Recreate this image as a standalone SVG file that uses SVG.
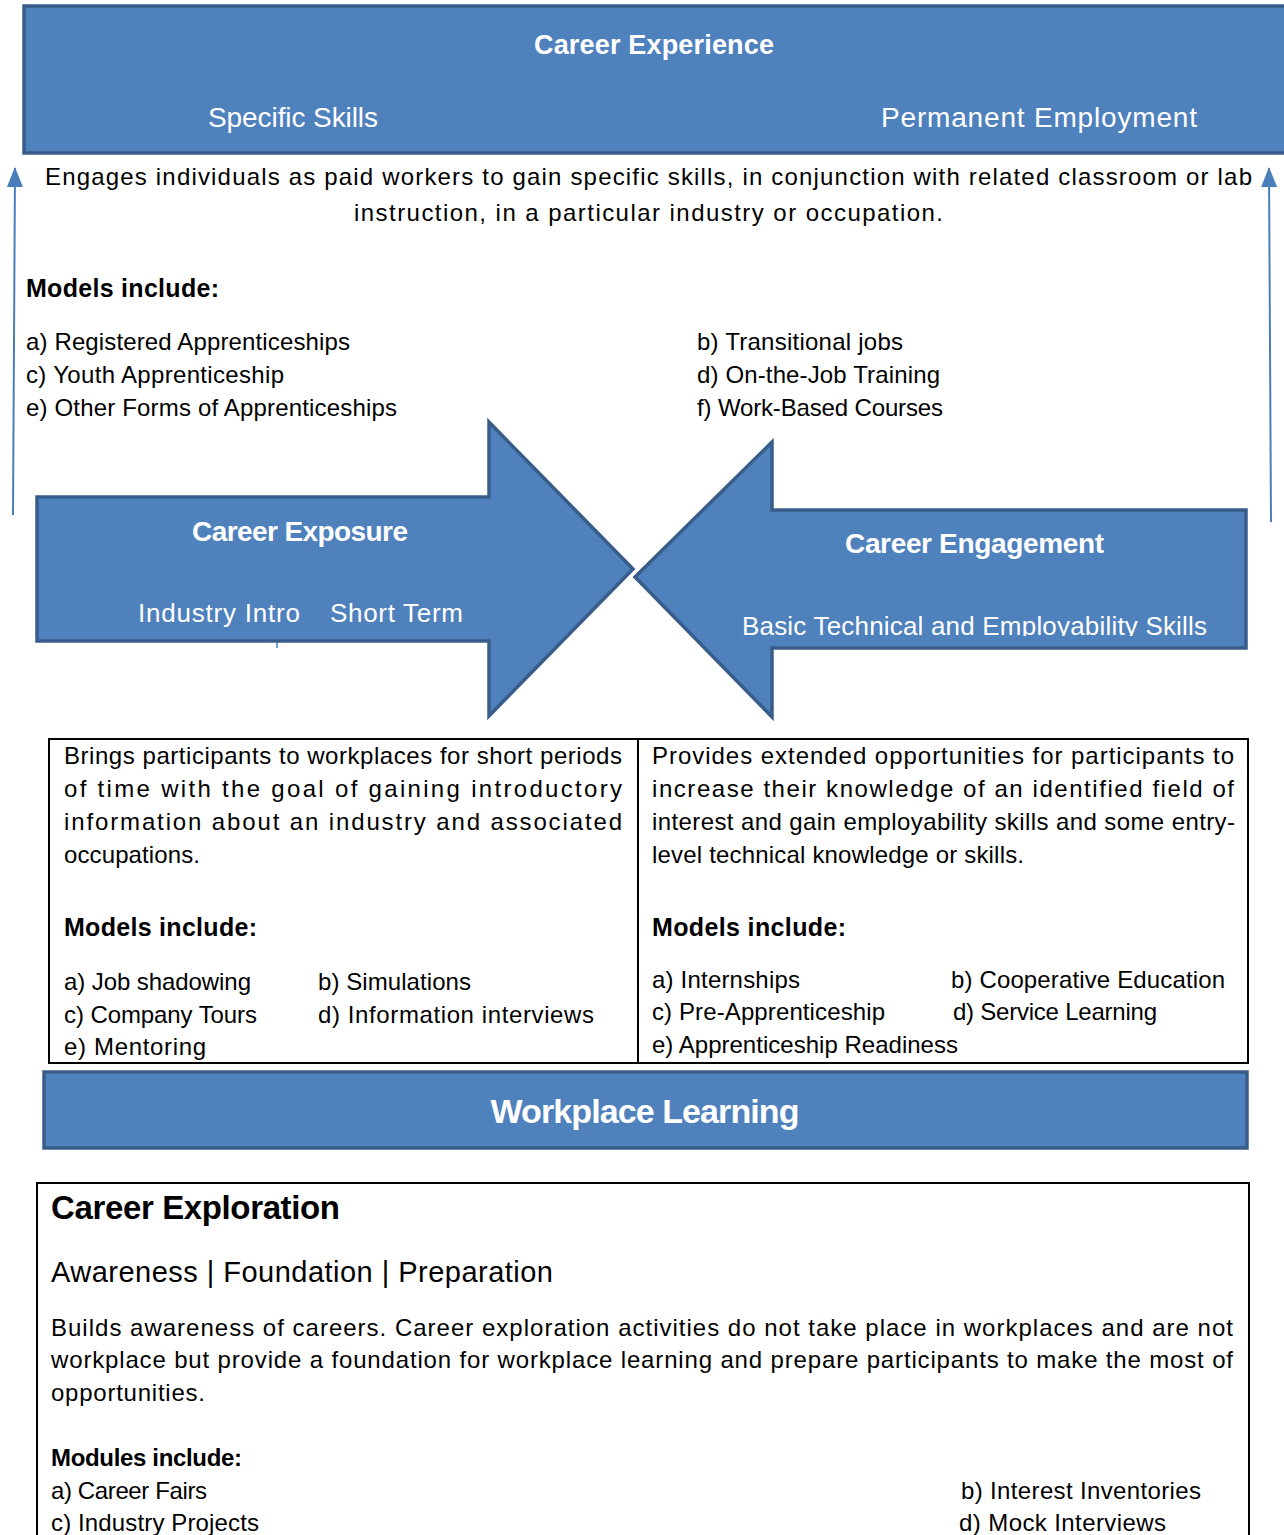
<svg xmlns="http://www.w3.org/2000/svg" width="1284" height="1535" viewBox="0 0 1284 1535">
<defs>
<style>
.blue{fill:#4F81BD;stroke:#385D8A;stroke-width:3.5;stroke-linejoin:miter}
.box{fill:none;stroke:#000;stroke-width:2}
text{font-family:"Liberation Sans",Arial,sans-serif}
.w{fill:#fff}
.k{fill:#000}
.b{font-weight:bold}
.body{font-size:24px}
.conn{stroke:#4A7EBB;stroke-width:2;fill:none}
</style>
<marker id="ah" viewBox="0 0 20 16" refX="19" refY="8" markerWidth="20" markerHeight="16" markerUnits="userSpaceOnUse" orient="auto">
<path d="M0,0 L20,8 L0,16 Z" fill="#4A7EBB"/>
</marker>
<clipPath id="clipEng"><rect x="640" y="500" width="620" height="136"/></clipPath>
</defs>
<rect width="1284" height="1535" fill="#fff"/>

<g id="career-experience">
<rect class="blue" x="24" y="6" width="1280" height="147"/>
<text class="w b" x="654" y="54" font-size="27" text-anchor="middle" textLength="240">Career Experience</text>
<text class="w" x="208" y="127" font-size="28" textLength="170">Specific Skills</text>
<text class="w" x="881" y="127" font-size="28" textLength="316">Permanent Employment</text>
</g>

<g id="experience-description">
<text class="k body" x="45" y="185" textLength="1207">Engages individuals as paid workers to gain specific skills, in conjunction with related classroom or lab</text>
<text class="k body" x="354" y="221" textLength="589">instruction, in a particular industry or occupation.</text>
<text class="k b" x="26" y="297" font-size="25" textLength="193">Models include:</text>
<text class="k body" x="26" y="350" textLength="324">a) Registered Apprenticeships</text>
<text class="k body" x="26" y="383" textLength="258">c) Youth Apprenticeship</text>
<text class="k body" x="26" y="416" textLength="371">e) Other Forms of Apprenticeships</text>
<text class="k body" x="697" y="350" textLength="206">b) Transitional jobs</text>
<text class="k body" x="697" y="383" textLength="243">d) On-the-Job Training</text>
<text class="k body" x="697" y="416" textLength="246">f) Work-Based Courses</text>
</g>

<g id="connectors">
<line class="conn" x1="13" y1="515" x2="15" y2="168" marker-end="url(#ah)"/>
<line class="conn" x1="1271" y1="522" x2="1269" y2="168" marker-end="url(#ah)"/>
<line x1="277" y1="628" x2="277" y2="648" stroke="#4A7EBB" stroke-width="1.5"/>
</g>

<g id="career-exposure">
<polygon class="blue" points="37,497 489,497 489,422 633,569 489,716 489,641 37,641"/>
<text class="w b" x="192" y="541" font-size="28" textLength="216">Career Exposure</text>
<text class="w" x="138" y="622" font-size="26" textLength="162">Industry Intro</text>
<text class="w" x="330" y="622" font-size="26" textLength="133">Short Term</text>
</g>

<g id="career-engagement">
<polygon class="blue" points="635,577 772,442 772,510 1246,510 1246,648 772,648 772,717"/>
<text class="w b" x="845" y="553" font-size="28" textLength="259">Career Engagement</text>
<g clip-path="url(#clipEng)">
<text class="w" x="742" y="635" font-size="26" textLength="465">Basic Technical and Employability Skills</text>
</g>
</g>

<g id="exposure-engagement-table">
<rect class="box" x="49" y="739" width="1199" height="324"/>
<line x1="638" y1="739" x2="638" y2="1063" stroke="#000" stroke-width="2"/>
</g>

<g id="exposure-description">
<text class="k body" x="64" y="764" textLength="558">Brings participants to workplaces for short periods</text>
<text class="k body" x="64" y="797" textLength="558">of time with the goal of gaining introductory</text>
<text class="k body" x="64" y="830" textLength="558">information about an industry and associated</text>
<text class="k body" x="64" y="863" textLength="136">occupations.</text>
<text class="k b" x="64" y="936" font-size="25" textLength="193">Models include:</text>
<text class="k body" x="64" y="990" textLength="187">a) Job shadowing</text>
<text class="k body" x="318" y="990" textLength="153">b) Simulations</text>
<text class="k body" x="64" y="1023" textLength="193">c) Company Tours</text>
<text class="k body" x="318" y="1023" textLength="276">d) Information interviews</text>
<text class="k body" x="64" y="1055" textLength="142">e) Mentoring</text>
</g>

<g id="engagement-description">
<text class="k body" x="652" y="764" textLength="582">Provides extended opportunities for participants to</text>
<text class="k body" x="652" y="797" textLength="582">increase their knowledge of an identified field of</text>
<text class="k body" x="652" y="830" textLength="583">interest and gain employability skills and some entry-</text>
<text class="k body" x="652" y="863" textLength="372">level technical knowledge or skills.</text>
<text class="k b" x="652" y="936" font-size="25" textLength="194">Models include:</text>
<text class="k body" x="652" y="988" textLength="148">a) Internships</text>
<text class="k body" x="951" y="988" textLength="274">b) Cooperative Education</text>
<text class="k body" x="652" y="1020" textLength="233">c) Pre-Apprenticeship</text>
<text class="k body" x="953" y="1020" textLength="204">d) Service Learning</text>
<text class="k body" x="652" y="1053" textLength="306">e) Apprenticeship Readiness</text>
</g>

<g id="workplace-learning">
<rect class="blue" x="44" y="1072" width="1203" height="76"/>
<text class="w b" x="645" y="1123" font-size="34" text-anchor="middle" textLength="309">Workplace Learning</text>
</g>

<g id="career-exploration">
<rect class="box" x="37" y="1183" width="1212" height="370"/>
<text class="k b" x="51" y="1219" font-size="33" textLength="289">Career Exploration</text>
<text class="k" x="51" y="1282" font-size="29" textLength="502">Awareness | Foundation | Preparation</text>
<text class="k body" x="51" y="1336" textLength="1182">Builds awareness of careers. Career exploration activities do not take place in workplaces and are not</text>
<text class="k body" x="51" y="1368" textLength="1182">workplace but provide a foundation for workplace learning and prepare participants to make the most of</text>
<text class="k body" x="51" y="1401" textLength="154">opportunities.</text>
<text class="k b" x="51" y="1466" font-size="24" textLength="191">Modules include:</text>
<text class="k body" x="51" y="1499" textLength="156">a) Career Fairs</text>
<text class="k body" x="961" y="1499" textLength="240">b) Interest Inventories</text>
<text class="k body" x="51" y="1531" textLength="208">c) Industry Projects</text>
<text class="k body" x="959" y="1531" textLength="207">d) Mock Interviews</text>
</g>
</svg>
